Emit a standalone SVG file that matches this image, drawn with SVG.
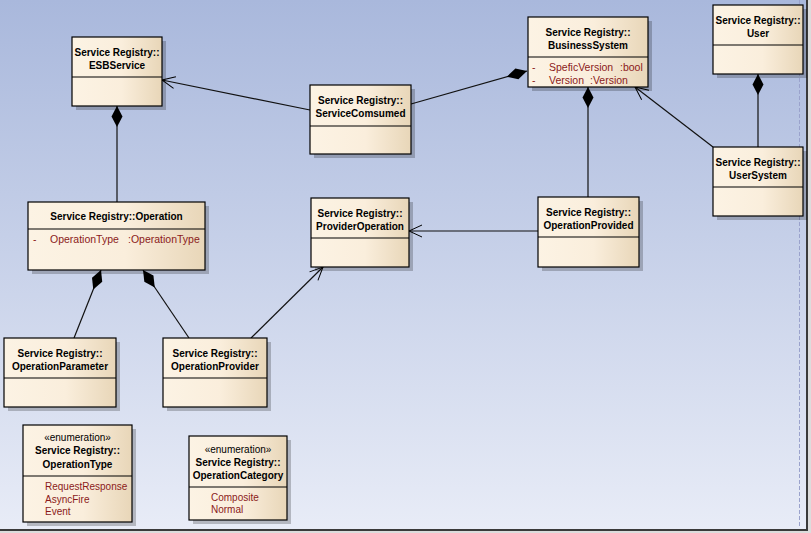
<svg xmlns="http://www.w3.org/2000/svg" width="811" height="533" viewBox="0 0 811 533">
<defs>
<linearGradient id="bg" x1="0" y1="0" x2="0" y2="1">
<stop offset="0" stop-color="#a9b8dc"/>
<stop offset="1" stop-color="#e8ecf7"/>
</linearGradient>
<linearGradient id="nodeGrad" x1="0" y1="0" x2="1" y2="0">
<stop offset="0" stop-color="#fcf3e4"/>
<stop offset="0.55" stop-color="#faeedc"/>
<stop offset="1" stop-color="#e8d6b8"/>
</linearGradient>
<marker id="diamond" markerUnits="userSpaceOnUse" viewBox="-1 -7 23 14" refX="0" refY="0" markerWidth="23" markerHeight="14" orient="auto">
<path d="M0,0 L10.5,-5.5 L21,0 L10.5,5.5 Z" fill="#000"/>
</marker>
<marker id="open" markerUnits="userSpaceOnUse" viewBox="-14 -8 16 16" refX="0" refY="0" markerWidth="16" markerHeight="16" orient="auto">
<path d="M-13,-6 L0,0 L-13,6" fill="none" stroke="#000" stroke-width="1"/>
</marker>
</defs>
<style>
.box{fill:url(#nodeGrad);stroke:#000;stroke-width:1.2}
.sh{fill:#000;opacity:0.22}
.dv{stroke:#000;stroke-width:1.2}
.t{font-family:"Liberation Sans",Arial,sans-serif;font-size:10px;font-weight:bold;fill:#000;text-anchor:middle}
.st{font-family:"Liberation Sans",Arial,sans-serif;font-size:10px;fill:#000;text-anchor:middle}
.a{font-family:"Liberation Sans",Arial,sans-serif;font-size:10.5px;fill:#8b1a1a}
.l{font-family:"Liberation Sans",Arial,sans-serif;font-size:10px;fill:#8b1a1a}
.c{stroke:#111;stroke-width:1.2;fill:none}
</style>
<rect x="0" y="0" width="811" height="533" fill="#dcdcdc"/>
<rect x="0" y="0" width="807" height="530" fill="url(#bg)"/>
<line x1="807" y1="0" x2="807" y2="531" stroke="#3a3a3a" stroke-width="2"/>
<line x1="0" y1="530" x2="808" y2="530" stroke="#3a3a3a" stroke-width="2"/>
<line x1="799.5" y1="0" x2="799.5" y2="528" stroke="#9aa2cc" stroke-width="1" stroke-dasharray="4,2"/>

<g id="connectors">
<path class="c" d="M310,110 L162,80" marker-end="url(#open)"/>
<path class="c" d="M527,71 L411,104" marker-start="url(#diamond)"/>
<path class="c" d="M117,106 L117,202" marker-start="url(#diamond)"/>
<path class="c" d="M101,270 L74,338" marker-start="url(#diamond)"/>
<path class="c" d="M143,270 L189,338" marker-start="url(#diamond)"/>
<path class="c" d="M251,338 L323,267" marker-end="url(#open)"/>
<path class="c" d="M538,231 L409,231" marker-end="url(#open)"/>
<path class="c" d="M588,87 L588,197" marker-start="url(#diamond)"/>
<path class="c" d="M713,147 L635,87" marker-end="url(#open)"/>
<path class="c" d="M758,74 L758,147" marker-start="url(#diamond)"/>
</g>

<g id="ESBService">
<rect class="sh" x="76" y="41" width="90" height="69"/>
<rect class="box" x="72" y="37" width="90" height="69"/>
<line class="dv" x1="72" y1="77" x2="162" y2="77"/>
<text class="t" x="117" y="56">Service Registry::</text>
<text class="t" x="117" y="69">ESBService</text>
</g>

<g id="ServiceComsumed">
<rect class="sh" x="314" y="89" width="101" height="69"/>
<rect class="box" x="310" y="85" width="101" height="69"/>
<line class="dv" x1="310" y1="126" x2="411" y2="126"/>
<text class="t" x="360.5" y="104">Service Registry::</text>
<text class="t" x="360.5" y="117">ServiceComsumed</text>
</g>

<g id="BusinessSystem">
<rect class="sh" x="532" y="21" width="120" height="70"/>
<rect class="box" x="528" y="17" width="120" height="70"/>
<line class="dv" x1="528" y1="57" x2="648" y2="57"/>
<text class="t" x="588" y="36">Service Registry::</text>
<text class="t" x="588" y="49">BusinessSystem</text>
<text class="a" x="532" y="71">-</text>
<text class="a" x="549" y="71">SpeficVersion</text>
<text class="a" x="620" y="71">:bool</text>
<text class="a" x="532" y="84">-</text>
<text class="a" x="549" y="84">Version</text>
<text class="a" x="590" y="84">:Version</text>
</g>

<g id="User">
<rect class="sh" x="717" y="9" width="90" height="69"/>
<rect class="box" x="713" y="5" width="90" height="69"/>
<line class="dv" x1="713" y1="45" x2="803" y2="45"/>
<text class="t" x="758" y="24">Service Registry::</text>
<text class="t" x="758" y="37">User</text>
</g>

<g id="UserSystem">
<rect class="sh" x="717" y="151" width="90" height="69"/>
<rect class="box" x="713" y="147" width="90" height="69"/>
<line class="dv" x1="713" y1="187" x2="803" y2="187"/>
<text class="t" x="758" y="166">Service Registry::</text>
<text class="t" x="758" y="179">UserSystem</text>
</g>

<g id="Operation">
<rect class="sh" x="32" y="206" width="177" height="68"/>
<rect class="box" x="28" y="202" width="177" height="68"/>
<line class="dv" x1="28" y1="229" x2="205" y2="229"/>
<text class="t" x="116.5" y="220">Service Registry::Operation</text>
<text class="a" x="33" y="242.5">-</text>
<text class="a" x="50" y="242.5">OperationType</text>
<text class="a" x="128" y="242.5">:OperationType</text>
</g>

<g id="ProviderOperation">
<rect class="sh" x="315" y="202" width="98" height="69"/>
<rect class="box" x="311" y="198" width="98" height="69"/>
<line class="dv" x1="311" y1="238" x2="409" y2="238"/>
<text class="t" x="360" y="217">Service Registry::</text>
<text class="t" x="360" y="230">ProviderOperation</text>
</g>

<g id="OperationProvided">
<rect class="sh" x="542" y="201" width="101" height="70"/>
<rect class="box" x="538" y="197" width="101" height="70"/>
<line class="dv" x1="538" y1="237" x2="639" y2="237"/>
<text class="t" x="588.5" y="216">Service Registry::</text>
<text class="t" x="588.5" y="229">OperationProvided</text>
</g>

<g id="OperationParameter">
<rect class="sh" x="8" y="342" width="112" height="69"/>
<rect class="box" x="4" y="338" width="112" height="69"/>
<line class="dv" x1="4" y1="378" x2="116" y2="378"/>
<text class="t" x="60" y="357">Service Registry::</text>
<text class="t" x="60" y="370">OperationParameter</text>
</g>

<g id="OperationProvider">
<rect class="sh" x="167" y="342" width="104" height="69"/>
<rect class="box" x="163" y="338" width="104" height="69"/>
<line class="dv" x1="163" y1="378" x2="267" y2="378"/>
<text class="t" x="215" y="357">Service Registry::</text>
<text class="t" x="215" y="370">OperationProvider</text>
</g>

<g id="OperationType">
<rect class="sh" x="27" y="429" width="109" height="97"/>
<rect class="box" x="23" y="425" width="109" height="97"/>
<line class="dv" x1="23" y1="476" x2="132" y2="476"/>
<text class="st" x="77.5" y="441">«enumeration»</text>
<text class="t" x="77.5" y="454">Service Registry::</text>
<text class="t" x="77.5" y="467.5">OperationType</text>
<text class="l" x="45" y="489.5">RequestResponse</text>
<text class="l" x="45" y="502.5">AsyncFire</text>
<text class="l" x="45" y="515">Event</text>
</g>

<g id="OperationCategory">
<rect class="sh" x="193" y="440" width="98" height="84"/>
<rect class="box" x="189" y="436" width="98" height="84"/>
<line class="dv" x1="189" y1="487" x2="287" y2="487"/>
<text class="st" x="238" y="453">«enumeration»</text>
<text class="t" x="238" y="465.5">Service Registry::</text>
<text class="t" x="238" y="478.5">OperationCategory</text>
<text class="l" x="211" y="500.5">Composite</text>
<text class="l" x="211" y="513">Normal</text>
</g>
</svg>
